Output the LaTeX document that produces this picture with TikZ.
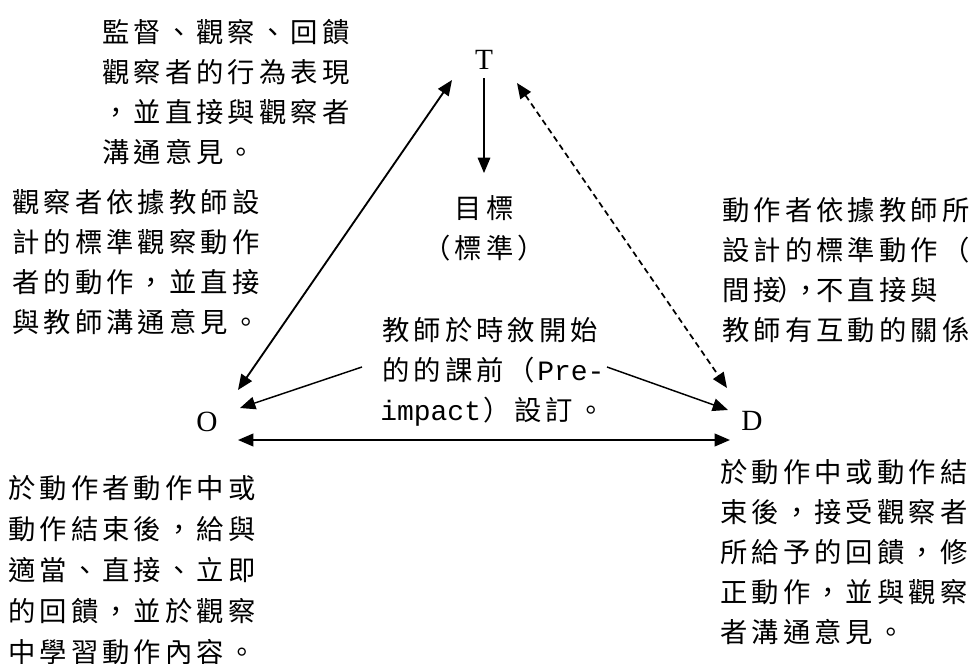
\documentclass[tikz,border=0pt]{standalone}
\usepackage{fontspec}
\setmainfont{Liberation Serif}
\newfontfamily\cjkf{Noto Sans CJK TC}
\newfontfamily\monof{Liberation Mono}
\usetikzlibrary{arrows.meta}
\newlength\cellw \setlength\cellw{23.55pt}
\newlength\halfw \setlength\halfw{11.78pt}
\makeatletter
\def\cjrow#1{\cj@aux#1\relax}
\def\cj@aux#1{\ifx\relax#1\else\makebox[\cellw]{#1}\expandafter\cj@aux\fi}
\makeatother
\newcommand\hc[1]{\makebox[\halfw]{#1}}
\newcommand\lat[1]{{\monof\fontsize{21pt}{30pt}\selectfont #1}}
\tikzset{
  blk/.style={inner sep=0pt, align=left, anchor=west, font=\cjkf\fontsize{20.5pt}{30pt}\selectfont},
  blkc/.style={inner sep=0pt, align=center, font=\cjkf\fontsize{20.5pt}{30pt}\selectfont},
  lett/.style={inner sep=0pt, font=\fontsize{22pt}{24pt}\selectfont},
  tipA/.style={-{Triangle[length=11.5pt,width=9.5pt]}},
  tipB/.style={{Triangle[length=11.5pt,width=9.5pt]}-{Triangle[length=11.5pt,width=9.5pt]}},
  conn/.style={line width=1.4pt},
  thin/.style={line width=0.8pt},
  mid/.style={line width=1.1pt},
  dashline/.style={line width=1.3pt, dash pattern=on 4.5pt off 3pt}
}
\begin{document}
\begin{tikzpicture}[x=0.75pt,y=-0.75pt]
\useasboundingbox (0,0) rectangle (976,664);
% letters
\node[lett] (T) at (484,60) {T};
\node[lett] (O) at (207,422) {O};
\node[lett] (D) at (752,421) {D};
% centre goal
\node[blkc] (goal) at (484,228) {\cjrow{目標}\\ \cjrow{（標準）}};
% text blocks
\node[blk] (tl) at (100,92.5) {\cjrow{監督、觀察、回饋}\\ \cjrow{觀察者的行為表現}\\ \cjrow{，並直接與觀察者}\\ \cjrow{溝通意見。}};
\node[blk] (lt) at (10,262) {\cjrow{觀察者依據教師設}\\ \cjrow{計的標準觀察動作}\\ \cjrow{者的動作，並直接}\\ \cjrow{與教師溝通意見。}};
\node[blk] (rt) at (720,270) {\cjrow{動作者依據教師所}\\ \cjrow{設計的標準動作（}\\ \cjrow{間接}\hc{）}\hc{，}\cjrow{不直接與}\\ \cjrow{教師有互動的關係}};
\node[blk] (cen) at (380,372) {\cjrow{教師於時敘開始}\\ \cjrow{的的課前（}\lat{Pre-}\\ \lat{impact}\cjrow{）設訂。}};
\node[blk, font=\cjkf\fontsize{20.5pt}{30.75pt}\selectfont] (bl) at (6,570) {\cjrow{於動作者動作中或}\\ \cjrow{動作結束後，給與}\\ \cjrow{適當、直接、立即}\\ \cjrow{的回饋，並於觀察}\\ \cjrow{中學習動作內容。}};
\node[blk] (br) at (718,552) {\cjrow{於動作中或動作結}\\ \cjrow{束後，接受觀察者}\\ \cjrow{所給予的回饋，修}\\ \cjrow{正動作，並與觀察}\\ \cjrow{者溝通意見。}};
% connectors
\draw[thin, tipA] ([shift={(0,18)}]T.center) -- ([shift={(0,-55)}]goal.center);
\draw[conn, tipB] ([shift={(31,-32)}]O.center) -- ([shift={(-32,20)}]T.center);
\draw[dashline, tipB] ([shift={(33,23)}]T.center) -- ([shift={(-25,-33)}]D.center);
\draw[conn, tipB] ([shift={(31,18)}]O.center) -- ([shift={(-22,19)}]D.center);
\draw[mid, tipA] ([shift={(-18,-5)}]cen.west) -- ([shift={(33,-14)}]O.center);
\draw[mid, tipA] ([shift={(227,-5)}]cen.west) -- ([shift={(-24,-11)}]D.center);
\end{tikzpicture}
\end{document}
